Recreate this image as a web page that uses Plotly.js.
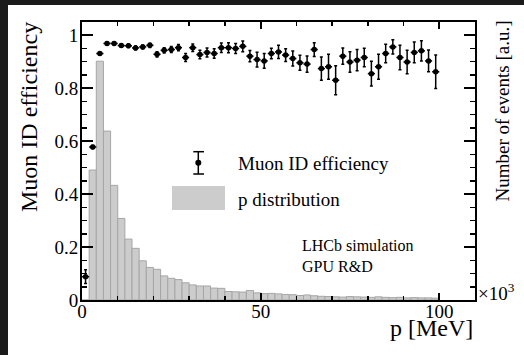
<!DOCTYPE html>
<html>
<head>
<meta charset="utf-8">
<script src="https://cdn.plot.ly/plotly-3.0.1.min.js"></script>
<style>
html,body{margin:0;padding:0;background:#1b1b1b;width:524px;height:355px;overflow:hidden;}
#plot{position:absolute;left:8px;top:5px;width:516px;height:350px;background:#fff;}
</style>
</head>
<body>
<div id="plot"></div>
<script>
// bin centres of momentum p [MeV] (bin width 2)
const pCenters = [1,3,5,7,9,11,13,15,17,19,21,23,25,27,29,31,33,35,37,39,41,43,45,47,49,
                  51,53,55,57,59,61,63,65,67,69,71,73,75,77,79,81,83,85,87,89,91,93,95,97,99];
// Muon ID efficiency per bin
const efficiency = [0.088,0.578,0.931,0.969,0.969,0.961,0.960,0.952,0.956,0.962,
                    0.928,0.943,0.946,0.953,0.916,0.953,0.927,0.935,0.931,0.953,
                    0.953,0.950,0.958,0.921,0.908,0.903,0.931,0.937,0.925,0.912,
                    0.896,0.891,0.946,0.874,0.881,0.830,0.921,0.899,0.906,0.916,
                    0.855,0.881,0.931,0.956,0.916,0.899,0.935,0.941,0.903,0.862];
// statistical uncertainty on efficiency
const effError = [0.026,0.006,0.005,0.005,0.005,0.006,0.006,0.007,0.007,0.008,
                  0.010,0.010,0.011,0.012,0.015,0.014,0.016,0.017,0.018,0.018,
                  0.019,0.019,0.020,0.021,0.028,0.028,0.020,0.025,0.024,0.028,
                  0.028,0.031,0.026,0.044,0.047,0.055,0.031,0.039,0.040,0.035,
                  0.047,0.047,0.035,0.027,0.046,0.044,0.039,0.038,0.041,0.063];
// half bin width (horizontal error)
const binHalfWidth = [1,1,1,1,1,1,1,1,1,1,1,1,1,1,1,1,1,1,1,1,1,1,1,1,1,
                      1,1,1,1,1,1,1,1,1,1,1,1,1,1,1,1,1,1,1,1,1,1,1,1,1];
// p distribution, number of events [a.u.]
const pDistribution = [0.000,0.491,0.902,0.638,0.433,0.308,0.230,0.195,0.148,0.123,
                       0.116,0.091,0.082,0.077,0.065,0.057,0.053,0.053,0.045,0.044,
                       0.032,0.031,0.030,0.036,0.027,0.024,0.025,0.023,0.021,0.020,
                       0.017,0.019,0.016,0.014,0.013,0.012,0.011,0.013,0.012,0.011,
                       0.010,0.012,0.010,0.009,0.010,0.008,0.009,0.008,0.008,0.007];

const serif = '"Liberation Serif", "DejaVu Serif", serif';

const traces = [
  {
    type: 'bar', x: pCenters, y: pDistribution, width: 2,
    marker: {color: '#cccccc', line: {color: '#a6a6a6', width: 1}},
    hoverinfo: 'skip', showlegend: false
  },
  {
    type: 'scatter', mode: 'markers', x: pCenters, y: efficiency,
    marker: {color: '#000', size: 5.5, symbol: 'circle'},
    error_y: {type: 'data', array: effError, visible: true, color: '#000', thickness: 1.5, width: 1.5},
    error_x: {type: 'data', array: binHalfWidth, visible: true, color: '#000', thickness: 1.5, width: 0},
    showlegend: false
  }
];

const W = 393, H = 278; // plot area in px
function px(x){ return (x - 82) / W; }
function py(y){ return (300 - y) / H; }
const r = 3;

const layout = {
  width: 516, height: 350,
  margin: {l: 74, r: 49, t: 17, b: 55, pad: 0},
  paper_bgcolor: '#fff', plot_bgcolor: '#fff',
  bargap: 0,
  showlegend: false,
  font: {family: serif, color: '#000', size: 19},
  xaxis: {
    range: [0, 110], showgrid: false, zeroline: false,
    showline: true, linecolor: '#000', linewidth: 2, mirror: 'ticks',
    ticks: 'inside', ticklen: 7, tickwidth: 1.8, tickcolor: '#000',
    tick0: 0, dtick: 50, ticklabelstandoff: -7,
    tickfont: {family: serif, size: 19, color: '#000'},
    minor: {dtick: 10, ticks: 'inside', ticklen: 4, tickwidth: 1.5, tickcolor: '#000', showgrid: false}
  },
  yaxis: {
    range: [0, 1.05], showgrid: false, zeroline: false,
    showline: true, linecolor: '#000', linewidth: 2, mirror: 'ticks',
    ticks: 'inside', ticklen: 11, tickwidth: 1.8, tickcolor: '#000',
    tick0: 0, dtick: 0.2, ticklabelstandoff: -2,
    tickfont: {family: serif, size: 19, color: '#000'},
    minor: {dtick: 0.05, ticks: 'inside', ticklen: 5, tickwidth: 1.5, tickcolor: '#000', showgrid: false}
  },
  shapes: [
    // legend: error bar symbol
    {type: 'line', xref: 'paper', yref: 'paper', x0: px(198.3), x1: px(198.3), y0: py(151.7), y1: py(174), line: {color: '#000', width: 1.5}},
    {type: 'line', xref: 'paper', yref: 'paper', x0: px(193.3), x1: px(204), y0: py(151.7), y1: py(151.7), line: {color: '#000', width: 1.5}},
    {type: 'line', xref: 'paper', yref: 'paper', x0: px(193.3), x1: px(204), y0: py(174), y1: py(174), line: {color: '#000', width: 1.5}},
    {type: 'circle', xref: 'paper', yref: 'paper', x0: px(198.3 - r), x1: px(198.3 + r), y0: py(162.7 + r), y1: py(162.7 - r), fillcolor: '#000', line: {color: '#000', width: 0}},
    // legend: histogram box
    {type: 'rect', xref: 'paper', yref: 'paper', x0: px(172), x1: px(225), y0: py(210), y1: py(186), fillcolor: '#cccccc', line: {width: 0}}
  ],
  annotations: [
    {xref: 'paper', yref: 'paper', x: px(236), y: py(163.3), xanchor: 'left', yanchor: 'middle', showarrow: false,
     text: 'Muon ID efficiency', font: {family: serif, size: 19, color: '#000'}},
    {xref: 'paper', yref: 'paper', x: px(236), y: py(199.5), xanchor: 'left', yanchor: 'middle', showarrow: false,
     text: 'p distribution', font: {family: serif, size: 19, color: '#000'}},
    {xref: 'paper', yref: 'paper', x: px(300), y: py(245), xanchor: 'left', yanchor: 'middle', showarrow: false,
     text: 'LHCb simulation', font: {family: serif, size: 16, color: '#000'}},
    {xref: 'paper', yref: 'paper', x: px(300), y: py(266.7), xanchor: 'left', yanchor: 'middle', showarrow: false,
     text: 'GPU R&amp;D', font: {family: serif, size: 16, color: '#000'}},
    // axis titles
    {xref: 'paper', yref: 'paper', x: 1.0, y: py(327.5), xanchor: 'right', yanchor: 'middle', showarrow: false,
     text: 'p [MeV]', font: {family: serif, size: 24, color: '#000'}},
    {xref: 'paper', yref: 'paper', x: px(28.5), y: py(20.5), xanchor: 'center', yanchor: 'top', showarrow: false, textangle: -90,
     text: 'Muon ID efficiency', font: {family: serif, size: 24, color: '#000'}},
    {xref: 'paper', yref: 'paper', x: px(501.5), y: py(18.5), xanchor: 'center', yanchor: 'top', showarrow: false, textangle: -90,
     text: 'Number of events [a.u.]', font: {family: serif, size: 19, color: '#000'}},
    {xref: 'paper', yref: 'paper', x: px(475.5), y: py(306), xanchor: 'left', yanchor: 'bottom', showarrow: false,
     text: '×10<sup>3</sup>', font: {family: serif, size: 19, color: '#000'}}
  ]
};

Plotly.newPlot('plot', traces, layout, {staticPlot: true, displayModeBar: false});
</script>
</body>
</html>
